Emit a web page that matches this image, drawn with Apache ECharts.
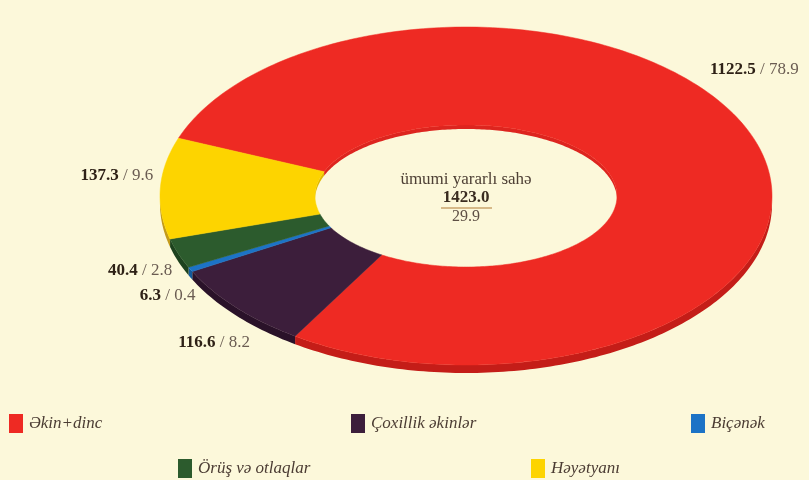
<!DOCTYPE html>
<html>
<head>
<meta charset="utf-8">
<script src="https://cdn.jsdelivr.net/npm/echarts@6/dist/echarts.min.js"></script>
<style>
  html, body { margin: 0; padding: 0; background: #fcf8da; }
  #chart { width: 809px; height: 480px; }
</style>
</head>
<body>
<div id="chart"></div>
<script>
// data
var categories = ['Əkin+dinc', 'Çoxillik əkinlər', 'Biçənək', 'Örüş və otlaqlar', 'Həyətyanı'];
var areaValues = [1122.5, 116.6, 6.3, 40.4, 137.3];
var sharePct = ['78.9', '8.2', '0.4', '2.8', '9.6'];
var centerTitle = 'ümumi yararlı sahə';
var centerTotal = '1423.0';
var centerSub = '29.9';

// look
var colors = ['#ee2a23', '#3c1e3b', '#1c73c6', '#2c5b2d', '#fdd400'];
var wallColors = ['#c41d18', '#2a1229', '#135a9c', '#1d421e', '#c39a1a'];
var innerWallColors = ['#dd251f', '#2a1229', '#135a9c', '#1d421e', '#e0b800'];
// tilted ring: outer ellipse, hole ellipse, thickness, start angle (deg, counter-clockwise from east)
var ring = { cx: 466, cy: 196, rx: 306, ry: 169, icx: 466, icy: 196, irx: 151, iry: 71, depth: 8, innerDepth: 4, start: 160 };
// label offsets from the slice's outer mid point
var labelNudge = [[-47, -74, 'left'], [14, 35, 'right'], [5, 26, 'right'], [-6, 17, 'right'], [-7, -13, 'right']];
var legendPos = [[9, 414], [351, 414], [691, 414], [178, 459], [531, 459]];

var total = areaValues.reduce(function (s, v) { return s + v; }, 0);
var before = [];
areaValues.reduce(function (s, v, i) { before[i] = s; return s + v; }, 0);

function outerPt(a) {
  var r = a * Math.PI / 180;
  return [ring.cx + ring.rx * Math.cos(r), ring.cy - ring.ry * Math.sin(r)];
}
function innerPt(a) {
  var r = a * Math.PI / 180;
  return [ring.icx + ring.irx * Math.cos(r), ring.icy - ring.iry * Math.sin(r)];
}
function arc(fn, from, to) {
  var n = Math.max(2, Math.ceil(Math.abs(to - from)) + 1);
  var pts = [];
  for (var k = 0; k < n; k++) pts.push(fn(from + (to - from) * k / (n - 1)));
  return pts;
}
function wall(fn, lo, hi, depth, color) {
  var top = arc(fn, lo, hi);
  var bottom = arc(fn, hi, lo).map(function (p) { return [p[0], p[1] + depth]; });
  return { type: 'polygon', z2: 0, shape: { points: top.concat(bottom) }, style: { fill: color } };
}

function renderSlice(params, api) {
  var i = params.seriesIndex;
  var v = api.value(0), prev = api.value(1);
  var a0 = ring.start - prev / total * 360;
  var a1 = a0 - v / total * 360;
  var children = [];
  // front outer wall (lower half of the ellipse)
  [[-180, 0], [180, 360]].forEach(function (r) {
    var lo = Math.max(a1, r[0]), hi = Math.min(a0, r[1]);
    if (hi > lo) children.push(wall(outerPt, lo, hi, ring.depth, wallColors[i]));
  });
  // far inner wall seen through the hole (upper half)
  [[-360, -180], [0, 180]].forEach(function (r) {
    var lo = Math.max(a1, r[0]), hi = Math.min(a0, r[1]);
    if (hi > lo) children.push(wall(innerPt, lo, hi, ring.innerDepth, innerWallColors[i]));
  });
  // top face
  children.push({
    type: 'polygon', z2: 10,
    shape: { points: arc(outerPt, a0, a1).concat(arc(innerPt, a1, a0)) },
    style: { fill: colors[i], stroke: colors[i], lineWidth: 0.5 }
  });
  // label
  var mid = outerPt((a0 + a1) / 2);
  var nd = labelNudge[i];
  children.push({
    type: 'text', z2: 20,
    x: mid[0] + nd[0], y: mid[1] + nd[1],
    style: {
      text: '{b|' + v.toFixed(1) + '}{n| / ' + sharePct[i] + '}',
      align: nd[2], verticalAlign: 'middle',
      rich: {
        b: { fontFamily: 'Liberation Serif', fontSize: 17, fontWeight: 'bold', fill: '#2e2116' },
        n: { fontFamily: 'Liberation Serif', fontSize: 17, fill: '#6a5c52' }
      }
    }
  });
  return { type: 'group', children: children };
}

var series = categories.map(function (name, i) {
  return {
    type: 'custom',
    name: name,
    coordinateSystem: 'none',
    color: colors[i],
    renderItem: renderSlice,
    silent: true,
    data: [[areaValues[i], before[i]]]
  };
});

var legends = categories.map(function (name, i) {
  return {
    data: [name],
    left: legendPos[i][0],
    top: legendPos[i][1],
    padding: 0,
    icon: 'rect',
    itemWidth: 14,
    itemHeight: 19,
    itemGap: 0,
    selectedMode: false,
    textStyle: { fontFamily: 'Liberation Serif', fontStyle: 'italic', fontSize: 17, color: '#4b3c33', padding: [0, 0, 0, 1] }
  };
});

var chart = echarts.init(document.getElementById('chart'));
chart.setOption({
  backgroundColor: '#fcf8da',
  animation: false,
  legend: legends,
  series: series,
  graphic: [
    {
      type: 'text', x: ring.icx, y: ring.icy - 16,
      style: { text: centerTitle, align: 'center', verticalAlign: 'middle', fontFamily: 'Liberation Serif', fontSize: 17, fill: '#4e4035' }
    },
    {
      type: 'text', x: ring.icx, y: ring.icy + 2,
      style: { text: centerTotal, align: 'center', verticalAlign: 'middle', fontFamily: 'Liberation Serif', fontSize: 17, fontWeight: 'bold', fill: '#3a2c20' }
    },
    {
      type: 'line', shape: { x1: ring.icx - 25, y1: ring.icy + 12, x2: ring.icx + 26, y2: ring.icy + 12 },
      style: { stroke: '#caa56c', lineWidth: 1.5 }
    },
    {
      type: 'text', x: ring.icx, y: ring.icy + 21,
      style: { text: centerSub, align: 'center', verticalAlign: 'middle', fontFamily: 'Liberation Serif', fontSize: 16, fill: '#5e5045' }
    }
  ]
});
</script>
</body>
</html>
